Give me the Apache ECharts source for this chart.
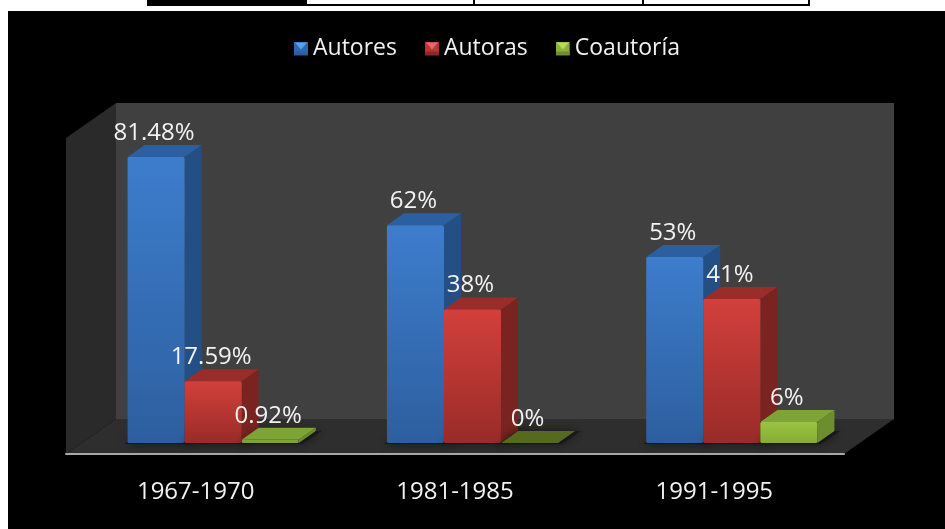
<!DOCTYPE html>
<html>
<head>
<meta charset="utf-8">
<style>
  html, body { margin: 0; padding: 0; background: #fff; }
  /* the source picture is a soft scan, take the edge off */
  #chart { width: 945px; height: 529px; filter: blur(0.4px); }
</style>
<script src="https://cdn.jsdelivr.net/npm/echarts@6/dist/echarts.min.js"></script>
</head>
<body>
<div id="chart"></div>
<script>
const periods = ['1967-1970', '1981-1985', '1991-1995'];
const autores = [81.48, 62, 53];
const autoras = [17.59, 38, 41];
const coautoria = [0.92, 0, 6];

const fontName = '"Open Sans", "Noto Sans", sans-serif';

// fake 3d: how far the floor and the bars go back
const floorDx = 50, floorDy = 35;
const insetDx = 17, insetDy = 11;
const depthDx = 17, depthDy = 12;

const chart = echarts.init(document.getElementById('chart'));

function vGrad(a, b) {
  return new echarts.graphic.LinearGradient(0, 0, 0, 1, [
    { offset: 0, color: a },
    { offset: 1, color: b }
  ]);
}

// back wall, side wall and floor, all hung on the grid rect
function renderWalls(params, api) {
  const r = params.coordSys;
  const x0 = r.x, x1 = r.x + r.width, y0 = r.y, y1 = r.y + r.height;
  return {
    type: 'group',
    silent: true,
    children: [
      { type: 'rect', shape: { x: x0 + floorDx, y: y0 - floorDy, width: r.width, height: r.height },
        style: { fill: '#404040' } },
      { type: 'polygon', shape: { points: [[x0, y0], [x0 + floorDx, y0 - floorDy], [x0 + floorDx, y1 - floorDy], [x0, y1]] },
        style: { fill: '#2a2a2a' } },
      { type: 'polygon', shape: { points: [[x0, y1], [x1, y1], [x1 + floorDx, y1 - floorDy], [x0 + floorDx, y1 - floorDy]] },
        style: { fill: '#2e2e2e' } }
    ]
  };
}

function barRenderer(seriesIndex, colors) {
  return function (params, api) {
    const i = api.value(0);
    const value = api.value(1);
    const base = api.coord([i, 0]);
    const top = api.coord([i, value]);
    const band = api.size([1, 0])[0];
    const w = band * 0.22;
    const x = base[0] + insetDx + (seriesIndex - 1.5) * w + 0.5;
    const yb = base[1] - insetDy;
    const yt = top[1] - insetDy;
    const h = yb - yt;
    const topFill = value === 0 ? colors.flat : colors.top;
    // very short bars read as one flat colour in the source
    const frontFill = h < 5 ? colors.top : vGrad(colors.light, colors.dark);
    return {
      type: 'group',
      children: [
        { type: 'polygon', silent: true,
          shape: { points: [[x - 3, yb + 1], [x + w + 3, yb + 1], [x + w + depthDx + 6, yb - depthDy], [x + depthDx, yb - depthDy]] },
          style: { fill: 'rgba(20,20,20,0.75)', shadowBlur: 10, shadowColor: 'rgba(0,0,0,0.7)' } },
        { type: 'polygon',
          shape: { points: [[x + w, yb], [x + w + depthDx, yb - depthDy], [x + w + depthDx, yt - depthDy], [x + w, yt]] },
          style: { fill: colors.side } },
        { type: 'polygon',
          shape: { points: [[x, yt], [x + depthDx, yt - depthDy], [x + w + depthDx, yt - depthDy], [x + w, yt]] },
          style: { fill: topFill } },
        { type: 'rect',
          shape: { x: x, y: yt, width: w, height: h, r: 1.5 },
          style: { fill: frontFill } },
        { type: 'text', z2: 100,
          style: {
            text: value + '%', x: x + w / 2 - 2, y: yt - 24,
            fill: '#f2f2f2', font: '24px ' + fontName,
            align: 'center', verticalAlign: 'middle'
          } }
      ]
    };
  };
}

const blue = { light: '#3d7dcd', dark: '#2d5f9f', side: '#234f85', top: '#2b5f9f', flat: '#2b5f9f' };
const red = { light: '#d2403b', dark: '#992b28', side: '#7a2320', top: '#9a2c29', flat: '#9a2c29' };
const green = { light: '#9cc440', dark: '#86ab37', side: '#6c8e2e', top: '#7ea336', flat: '#55691f' };

function legendIcon(light, mid, dark) {
  const svg = '<svg xmlns="http://www.w3.org/2000/svg" width="14" height="14">' +
    '<rect width="14" height="14" fill="' + dark + '"/>' +
    '<path d="M1 1H13L7 8Z" fill="' + light + '"/>' +
    '<rect y="10" width="14" height="4" fill="' + mid + '"/></svg>';
  return 'image://data:image/svg+xml,' + encodeURIComponent(svg);
}

function toRows(values) {
  return values.map(function (v, i) { return [i, v]; });
}

const option = {
  animation: false,
  backgroundColor: '#fff',
  graphic: [
    // black panel behind the chart and the cut off table above it
    { type: 'rect', z: -10, shape: { x: 8, y: 11, width: 937, height: 518 }, style: { fill: '#000' } },
    { type: 'rect', z: -10, shape: { x: 147, y: 0, width: 160, height: 6 }, style: { fill: '#000' } },
    { type: 'rect', z: -10, shape: { x: 307, y: 4, width: 503, height: 2 }, style: { fill: '#000' } },
    { type: 'rect', z: -10, shape: { x: 473, y: 0, width: 2, height: 5 }, style: { fill: '#000' } },
    { type: 'rect', z: -10, shape: { x: 642, y: 0, width: 2, height: 5 }, style: { fill: '#000' } },
    { type: 'rect', z: -10, shape: { x: 808, y: 0, width: 2, height: 5 }, style: { fill: '#000' } }
  ],
  legend: {
    top: 37,
    left: 294,
    padding: 0,
    itemWidth: 14,
    itemHeight: 14,
    itemGap: 28,
    textStyle: { color: '#f2f2f2', fontSize: 23, fontFamily: fontName },
    data: [
      { name: 'Autores', icon: legendIcon('#5ba0ea', '#2d5f9f', '#2f69ae') },
      { name: 'Autoras', icon: legendIcon('#e8666a', '#8c2a28', '#b93835') },
      { name: 'Coautoría', icon: legendIcon('#b7d95c', '#6e8f2f', '#8cb03a') }
    ]
  },
  grid: { left: 66, right: 101, top: 138, bottom: 75 },
  xAxis: {
    type: 'category',
    data: periods,
    axisTick: { show: false },
    axisLine: { lineStyle: { color: '#a8a8a8', width: 2 } },
    axisLabel: { color: '#f2f2f2', fontSize: 24, fontFamily: fontName, margin: 26 }
  },
  yAxis: { type: 'value', min: 0, max: 90, show: false },
  series: [
    { name: 'walls', type: 'custom', silent: true, z: 0, data: [[0, 0]], renderItem: renderWalls },
    { name: 'Autores', type: 'custom', z: 2, data: toRows(autores), itemStyle: { color: blue.light }, renderItem: barRenderer(0, blue) },
    { name: 'Autoras', type: 'custom', z: 2, data: toRows(autoras), itemStyle: { color: red.light }, renderItem: barRenderer(1, red) },
    { name: 'Coautoría', type: 'custom', z: 2, data: toRows(coautoria), itemStyle: { color: green.light }, renderItem: barRenderer(2, green) }
  ]
};

chart.setOption(option);
</script>
</body>
</html>
